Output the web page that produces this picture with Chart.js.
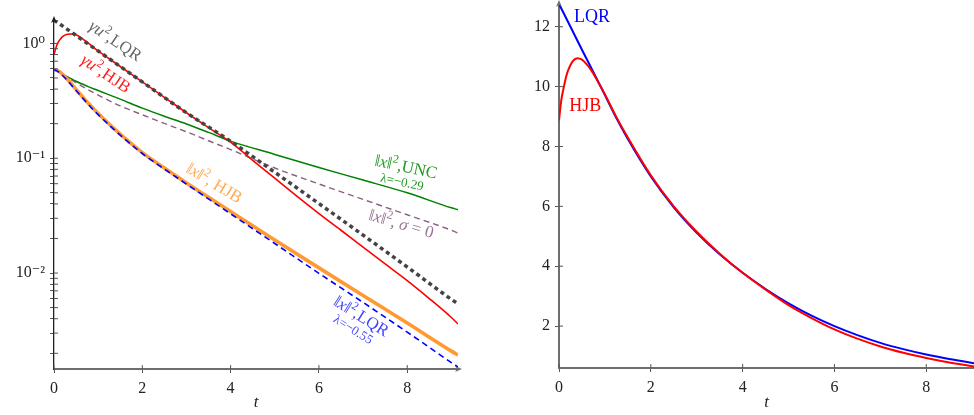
<!DOCTYPE html>
<html>
<head>
<meta charset="utf-8">
<script src="https://cdn.jsdelivr.net/npm/chart.js@4.4.0/dist/chart.umd.min.js"></script>
<style>
  html, body { margin: 0; padding: 0; background: #fff; overflow: hidden; }
  #wrap { position: relative; width: 974px; height: 415px; }
  #left { position: absolute; left: 0; top: 0; }
  #right { position: absolute; left: 500px; top: 0; }
</style>
</head>
<body>
<div id="wrap">
  <canvas id="left" width="500" height="415"></canvas>
  <canvas id="right" width="474" height="415"></canvas>
</div>
<script>
// --- left panel: costs on a log scale ---
const tGray = [0, 1, 2, 3, 4, 5, 6, 7, 8, 9, 9.15];
const uLQR = [1.6, 0.86, 0.462, 0.249, 0.1405, 0.0755, 0.0403, 0.0214, 0.0113, 0.0059, 0.0054];

const tRed = [0, 0.05, 0.1, 0.15, 0.2, 0.3, 0.4, 0.5, 0.6, 0.7, 0.8, 1, 1.5, 2, 2.5, 3, 3.5, 4, 4.5, 5, 5.5, 6, 6.5, 7, 7.5, 8, 8.5, 9, 9.15];
const uHJB = [0.80, 0.93, 1.03, 1.1, 1.15, 1.2, 1.21, 1.19, 1.13, 1.06, 0.99, 0.86, 0.63, 0.462, 0.339, 0.249, 0.185, 0.138, 0.096, 0.067, 0.0468, 0.033, 0.0236, 0.0168, 0.0120, 0.0086, 0.0060, 0.0041, 0.0036];

const tState = [0, 0.1, 0.25, 0.5, 0.75, 1, 1.5, 2, 2.5, 3, 3.5, 4, 5, 6, 7, 8, 9, 9.15];
const xUNC = [0.593, 0.565, 0.525, 0.468, 0.425, 0.389, 0.327, 0.273, 0.232, 0.199, 0.168, 0.141, 0.108, 0.083, 0.0646, 0.050, 0.037, 0.0356];
const xSigma0 = [0.593, 0.572, 0.525, 0.455, 0.40, 0.355, 0.286, 0.239, 0.201, 0.170, 0.142, 0.119, 0.0822, 0.0597, 0.0438, 0.0322, 0.0236, 0.0223];
const xHJB = [0.593, 0.575, 0.513, 0.398, 0.309, 0.245, 0.162, 0.112, 0.0822, 0.0610, 0.0457, 0.0343, 0.0194, 0.0111, 0.00638, 0.00367, 0.00209, 0.00193];
const xLQR = [0.593, 0.565, 0.50, 0.389, 0.302, 0.240, 0.159, 0.110, 0.0805, 0.0596, 0.0442, 0.0328, 0.0181, 0.00995, 0.00555, 0.00306, 0.00166, 0.00152];

const xTicks = [0, 2, 4, 6, 8];
const decades = [1e-3, 1e-2, 1e-1, 1];

// --- right panel: linear scale ---
const tRightLQR = [0, 0.25, 0.5, 0.75, 1, 1.25, 1.5, 2, 2.5, 3, 3.5, 4, 4.5, 5, 5.5, 6, 6.5, 7, 7.5, 8, 8.5, 9, 9.2];
const rightLQR = [12.76, 12.0, 11.23, 10.48, 9.72, 8.95, 8.25, 7.0, 5.97, 5.12, 4.4, 3.78, 3.24, 2.76, 2.35, 2.0, 1.7, 1.44, 1.23, 1.05, 0.9, 0.77, 0.72];
const tRightHJB = [0, 0.05, 0.1, 0.15, 0.2, 0.3, 0.4, 0.5, 0.6, 0.7, 0.8, 1, 1.25, 1.5, 2, 2.5, 3, 3.5, 4, 4.5, 5, 5.5, 6, 6.5, 7, 7.5, 8, 8.5, 9, 9.2];
const rightHJB = [8.87, 9.55, 9.95, 10.3, 10.55, 10.85, 10.95, 10.9, 10.75, 10.55, 10.3, 9.74, 8.98, 8.3, 7.04, 6.0, 5.15, 4.42, 3.78, 3.22, 2.70, 2.27, 1.89, 1.58, 1.32, 1.11, 0.935, 0.785, 0.66, 0.615];

const serif = "'Liberation Serif', 'DejaVu Serif', serif";
const SUP = { "-": "\u207B", "0": "\u2070", "1": "\u00B9", "2": "\u00B2", "3": "\u00B3" };

// tick values for the log axis: every m * 10^k
const logTickValues = [];
decades.forEach(d => { for (let m = 1; m <= 9; m++) logTickValues.push(m * d); });

function decadeLabel(v) {
  const e = Math.round(Math.log10(v));
  if (Math.abs(v / Math.pow(10, e) - 1) > 1e-6) return "";
  return "10" + String(e).split("").map(c => SUP[c]).join("");
}

function series(label, ts, vs, color, width, dash, order) {
  return {
    label,
    data: ts.map((t, i) => ({ x: t, y: vs[i] })),
    borderColor: color,
    borderWidth: width,
    borderDash: dash || [],
    pointRadius: 0,
    fill: false,
    cubicInterpolationMode: "monotone",
    order
  };
}

// --- rotated labels with italics and superscripts ---
function drawRich(ctx, parts, x, y, angle, size, color) {
  const fontOf = st => (st === "i" ? "italic " : "") + (st === "s" ? Math.round(size * 0.7) : size) + "px " + serif;
  ctx.save();
  ctx.translate(x, y);
  ctx.rotate(angle * Math.PI / 180);
  ctx.fillStyle = color;
  ctx.textBaseline = "middle";
  let w = 0;
  const ws = parts.map(([s, st]) => { ctx.font = fontOf(st); const m = ctx.measureText(s).width; w += m; return m; });
  let cx = -w / 2;
  parts.forEach(([s, st], i) => {
    ctx.font = fontOf(st);
    ctx.fillText(s, cx, st === "s" ? -size * 0.33 : 0);
    cx += ws[i];
  });
  ctx.restore();
}

function arrowHead(ctx, x, y, dir, color) {
  ctx.save();
  ctx.translate(x, y);
  ctx.rotate(dir);
  ctx.fillStyle = color;
  ctx.beginPath();
  ctx.moveTo(3, 0);
  ctx.lineTo(-4, -3);
  ctx.lineTo(-2, 0);
  ctx.lineTo(-4, 3);
  ctx.closePath();
  ctx.fill();
  ctx.restore();
}

const decor = {
  id: "decor",
  afterDraw(chart, args, opts) {
    const { ctx, chartArea: a, scales } = chart;
    // inner half of the tick marks (pgfplots style ticks cross the axis)
    ctx.save();
    ctx.strokeStyle = "#555";
    ctx.lineWidth = 1;
    scales.x.ticks.forEach(tk => {
      const px = scales.x.getPixelForValue(tk.value);
      ctx.beginPath(); ctx.moveTo(px, a.bottom); ctx.lineTo(px, a.bottom - 4); ctx.stroke();
    });
    scales.y.ticks.forEach(tk => {
      const py = scales.y.getPixelForValue(tk.value);
      if (py < a.top || py > a.bottom) return;
      ctx.beginPath(); ctx.moveTo(a.left, py); ctx.lineTo(a.left + 4, py); ctx.stroke();
    });
    ctx.restore();
    if (opts.arrowY) arrowHead(ctx, a.left, a.top - 1, -Math.PI / 2, opts.arrowY);
    if (opts.arrowX) arrowHead(ctx, a.right + 1, a.bottom, 0, opts.arrowX);
    (opts.notes || []).forEach(n => {
      const x = scales.x.getPixelForValue(n.t);
      const y = scales.y.getPixelForValue(n.v);
      drawRich(ctx, n.parts, x, y, n.angle, n.size, n.color);
    });
  }
};

const norm = [["\u2016", "r"], ["x", "i"], ["\u2016", "r"], ["2", "s"]];
const leftNotes = [
  { t: 1.38, v: 1.04, angle: 34, size: 17, color: "#666666", parts: [["\u03B3u", "i"], ["2", "s"], [",LQR", "r"]] },
  { t: 1.16, v: 0.537, angle: 34, size: 17, color: "#ff1a1a", parts: [["\u03B3u", "i"], ["2", "s"], [",HJB", "r"]] },
  { t: 3.62, v: 0.060, angle: 31, size: 17, color: "#ffaa55", parts: [...norm, [", HJB", "r"]] },
  { t: 7.97, v: 0.0828, angle: 12, size: 17, color: "#229922", parts: [...norm, [",UNC", "r"]] },
  { t: 7.88, v: 0.0612, angle: 12, size: 13, color: "#229922", parts: [["\u03BB=\u22120.29", "r"]] },
  { t: 7.86, v: 0.0264, angle: 16, size: 17, color: "#9a7494", parts: [...norm, [", ", "r"], ["\u03C3", "i"], [" = 0", "r"]] },
  { t: 6.95, v: 0.00415, angle: 32, size: 17, color: "#4444ff", parts: [...norm, [",LQR", "r"]] },
  { t: 6.77, v: 0.00319, angle: 32, size: 13, color: "#4444ff", parts: [["\u03BB=\u22120.55", "r"]] }
];
const rightNotes = [
  { t: 0.72, v: 12.32, angle: 0, size: 18, color: "#0000ff", parts: [["LQR", "r"]] },
  { t: 0.57, v: 9.36, angle: 0, size: 18, color: "#ff0000", parts: [["HJB", "r"]] }
];

const tickFont = { family: serif, size: 16 };
const titleT = { display: true, text: "t", color: "#222", font: { family: serif, size: 17, style: "italic" }, padding: { top: 0, bottom: 2 } };

function xScale(max, height) {
  return {
    type: "linear", min: 0, max,
    afterBuildTicks: s => { s.ticks = xTicks.map(v => ({ value: v })); },
    ticks: { font: tickFont, color: "#222", padding: 6, maxRotation: 0 },
    grid: { drawOnChartArea: false, color: "#555", tickLength: 4 },
    border: { color: "#6e6e6e", width: 2 },
    title: titleT,
    afterFit: s => { s.height = height; s.paddingLeft = 0; s.paddingRight = 0; }
  };
}

// --- left chart ---
new Chart(document.getElementById("left"), {
  type: "line",
  data: {
    datasets: [
      series("uLQR", tGray, uLQR, "#444444", 3.5, [4, 3.5], 0),
      series("xLQR", tState, xLQR, "#0000ff", 1.6, [6, 4], 1),
      series("uHJB", tRed, uHJB, "#ff0000", 1.6, null, 2),
      series("xHJB", tState, xHJB, "#ff9a33", 3.6, null, 3),
      series("xUNC", tState, xUNC, "#008000", 1.5, null, 4),
      series("xSigma0", tState, xSigma0, "#8b5f80", 1.4, [6, 4], 5)
    ]
  },
  options: {
    responsive: false,
    animation: false,
    devicePixelRatio: 1,
    layout: { padding: { top: 20, right: 42, left: 0, bottom: 0 } },
    plugins: {
      legend: { display: false },
      tooltip: { enabled: false },
      decor: { arrowY: "#222", arrowX: "#6e6e6e", notes: leftNotes }
    },
    scales: {
      x: xScale(9.15, 46),
      y: {
        type: "logarithmic", min: 1.46e-3, max: 1.6,
        afterBuildTicks: s => { s.ticks = logTickValues.filter(v => v >= 1.46e-3 && v <= 1.6).map(v => ({ value: v })); },
        ticks: { callback: v => decadeLabel(v), font: tickFont, color: "#222", padding: 5, autoSkip: false },
        grid: { drawOnChartArea: false, color: "#555", tickLength: 4 },
        border: { color: "#222", width: 1.3 },
        afterFit: s => { s.width = 54; s.paddingTop = 0; s.paddingBottom = 0; }
      }
    }
  },
  plugins: [decor]
});

// --- right chart ---
new Chart(document.getElementById("right"), {
  type: "line",
  data: {
    datasets: [
      series("HJB", tRightHJB, rightHJB, "#ff0000", 2, null, 0),
      series("LQR", tRightLQR, rightLQR, "#0000ff", 2, null, 1)
    ]
  },
  options: {
    responsive: false,
    animation: false,
    devicePixelRatio: 1,
    layout: { padding: { top: 4, right: 0, left: 0, bottom: 0 } },
    plugins: {
      legend: { display: false },
      tooltip: { enabled: false },
      decor: { arrowY: "#6e6e6e", notes: rightNotes }
    },
    scales: {
      x: xScale(9.04, 47),
      y: {
        type: "linear", min: 0.6, max: 12.76,
        ticks: { stepSize: 2, includeBounds: false, font: tickFont, color: "#222", padding: 5 },
        grid: { drawOnChartArea: false, color: "#555", tickLength: 4 },
        border: { color: "#6e6e6e", width: 2 },
        afterFit: s => { s.width = 59; s.paddingTop = 0; s.paddingBottom = 0; }
      }
    }
  },
  plugins: [decor]
});
</script>
</body>
</html>
